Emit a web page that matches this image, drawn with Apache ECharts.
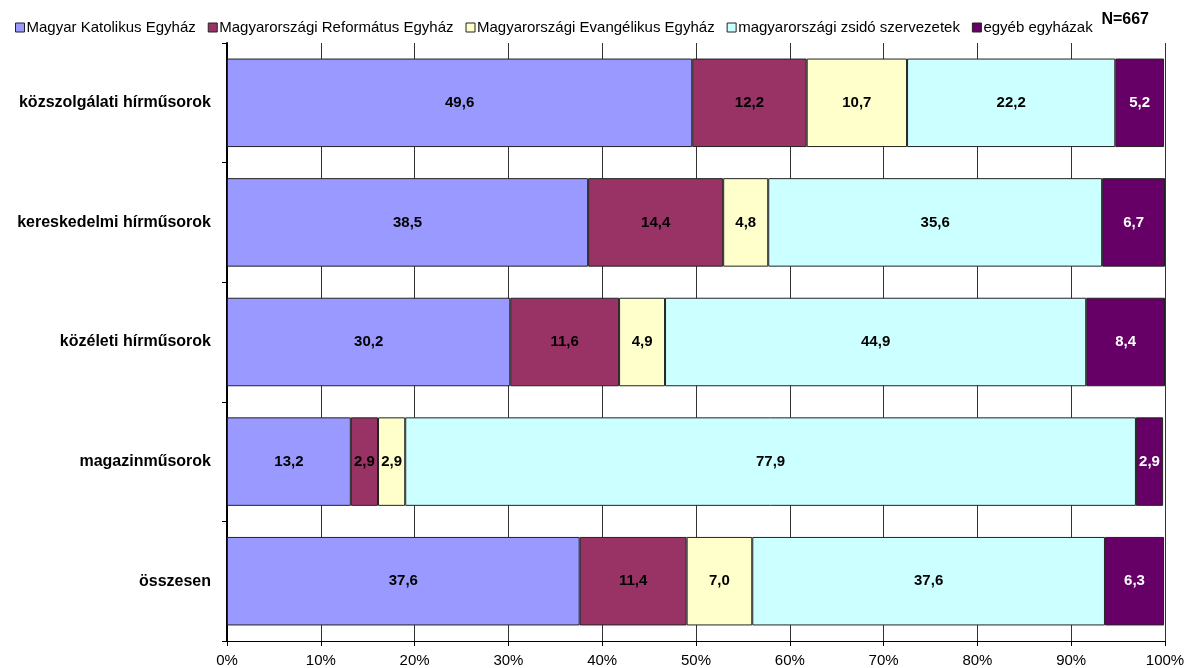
<!DOCTYPE html>
<html>
<head>
<meta charset="utf-8">
<script src="https://cdn.jsdelivr.net/npm/echarts@6/dist/echarts.min.js"></script>
<style>
  html, body { margin: 0; padding: 0; background: #fff; }
  #main { width: 1190px; height: 668px; }
</style>
</head>
<body>
<div id="main"></div>
<script>
var categories = ['közszolgálati hírműsorok', 'kereskedelmi hírműsorok', 'közéleti hírműsorok', 'magazinműsorok', 'összesen'];
var seriesNames = ['Magyar Katolikus Egyház', 'Magyarországi Református Egyház', 'Magyarországi Evangélikus Egyház', 'magyarországi zsidó szervezetek', 'egyéb egyházak'];
var katolikus = [49.6, 38.5, 30.2, 13.2, 37.6];
var reformatus = [12.2, 14.4, 11.6, 2.9, 11.4];
var evangelikus = [10.7, 4.8, 4.9, 2.9, 7.0];
var zsido = [22.2, 35.6, 44.9, 77.9, 37.6];
var egyeb = [5.2, 6.7, 8.4, 2.9, 6.3];
var colors = ['#9999FF', '#993366', '#FFFFCC', '#CCFFFF', '#660066'];
var labelColors = ['#000', '#000', '#000', '#000', '#fff'];

var allData = [katolikus, reformatus, evangelikus, zsido, egyeb];
var font = 'Liberation Sans, Arial, sans-serif';

var chart = echarts.init(document.getElementById('main'));

var series = allData.map(function (d, i) {
  return {
    name: seriesNames[i],
    type: 'bar',
    stack: 'total',
    barWidth: '74%',
    data: d,
    itemStyle: { color: colors[i], borderColor: '#222', borderWidth: 1 },
    label: {
      show: true,
      position: 'inside',
      color: labelColors[i],
      fontFamily: font,
      fontWeight: 'bold',
      fontSize: 15,
      formatter: function (p) { return p.value.toFixed(1).replace('.', ','); }
    }
  };
});

var option = {
  animation: false,
  color: colors,
  title: {
    text: 'N=667',
    right: 36,
    top: 7,
    textStyle: { fontFamily: font, fontSize: 16, fontWeight: 'bold', color: '#000' }
  },
  legend: {
    data: seriesNames,
    left: 10,
    top: 15,
    icon: 'rect',
    itemWidth: 9,
    itemHeight: 9,
    itemGap: 12,
    itemStyle: { borderColor: '#222', borderWidth: 1 },
    textStyle: { fontFamily: font, fontSize: 15, color: '#000', padding: [0, 0, 0, -3] }
  },
  grid: { left: 227, right: 25, top: 43, bottom: 27 },
  xAxis: {
    type: 'value',
    min: 0,
    max: 100,
    interval: 10,
    axisLine: { show: true, lineStyle: { color: '#000', width: 1 } },
    axisTick: { show: true, length: 5, lineStyle: { color: '#000' } },
    axisLabel: {
      formatter: '{value}%',
      color: '#000',
      fontFamily: font,
      fontSize: 15,
      margin: 12
    },
    splitLine: { show: true, lineStyle: { color: '#333', width: 1 } }
  },
  yAxis: {
    type: 'category',
    inverse: true,
    data: categories,
    axisLine: { show: true, lineStyle: { color: '#000', width: 2 } },
    axisTick: { show: true, length: 5, lineStyle: { color: '#000' } },
    axisLabel: {
      color: '#000',
      fontFamily: font,
      fontSize: 16,
      fontWeight: 'bold',
      margin: 16
    }
  },
  series: series
};

chart.setOption(option);
</script>
</body>
</html>
